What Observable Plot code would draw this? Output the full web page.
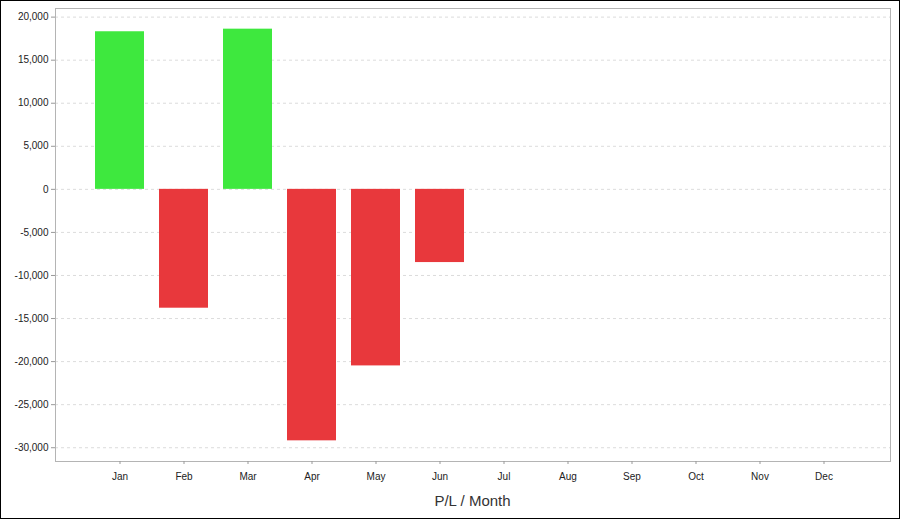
<!DOCTYPE html>
<html>
<head>
<meta charset="utf-8">
<script src="https://cdn.jsdelivr.net/npm/d3@7"></script>
<script src="https://cdn.jsdelivr.net/npm/@observablehq/plot@0.6"></script>
<style>
  html, body { margin: 0; padding: 0; background: #fff; }
  #wrap { position: relative; width: 900px; height: 519px; overflow: hidden; font-family: "Liberation Sans", Arial, sans-serif; }
  #border { position: absolute; left: 0; top: 0; width: 900px; height: 519px; box-sizing: border-box; border: 1px solid #000; pointer-events: none; }
  #title { position: absolute; left: 55px; width: 835px; top: 492px; text-align: center; font-size: 15px; color: #333; }
  svg { display: block; }
</style>
</head>
<body>
<div id="wrap">
  <div id="chart"></div>
  <div id="title">P/L / Month</div>
  <div id="border"></div>
</div>
<script>
const months = ["Jan","Feb","Mar","Apr","May","Jun","Jul","Aug","Sep","Oct","Nov","Dec"];
const plMonths = ["Jan","Feb","Mar","Apr","May","Jun"];
const plValues = [18300, -13800, 18600, -29200, -20500, -8500];
const yTicks = [-30000,-25000,-20000,-15000,-10000,-5000,0,5000,10000,15000,20000];

const data = plMonths.map((m, i) => ({month: m, value: plValues[i]}));
const fmt = d3.formatLocale({decimal: ".", thousands: ",", grouping: [3], currency: ["$", ""], minus: "-"}).format(",");

const chart = Plot.plot({
  width: 900,
  height: 488,
  marginLeft: 55,
  marginRight: 10,
  marginTop: 8,
  marginBottom: 27,
  style: {fontFamily: '"Liberation Sans", Arial, sans-serif', fontSize: "10px", color: "#222", background: "transparent"},
  x: {domain: months, paddingInner: 0.23, paddingOuter: 0.115, insetLeft: 33, insetRight: 34, label: null},
  y: {domain: [-31600, 21000], label: null},
  marks: [
    Plot.gridY(yTicks, {stroke: "#dcdcdc", strokeOpacity: 1, strokeDasharray: "3,3"}),
    Plot.barY(data, {x: "month", y: "value", fill: d => d.value >= 0 ? "#3ee83e" : "#e8383c"}),
    Plot.frame({stroke: "#b4b4b4"}),
    Plot.axisY(yTicks, {tickFormat: fmt, tickSize: 4, tickPadding: 3, stroke: "#999", fill: "#222", label: null}),
    Plot.axisX(months, {tickSize: 3, tickPadding: 8, stroke: "#999", fill: "#222", label: null})
  ]
});
document.getElementById("chart").appendChild(chart);
</script>
</body>
</html>
